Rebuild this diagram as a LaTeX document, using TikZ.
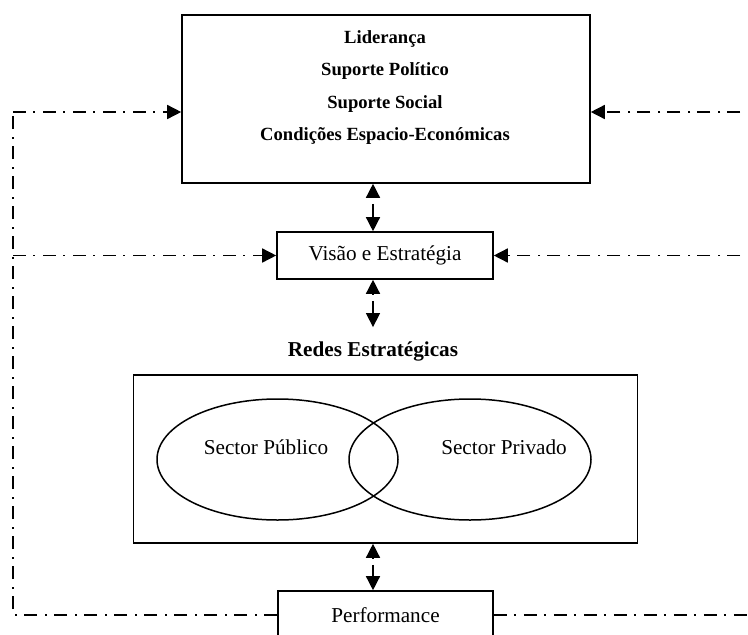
\documentclass[tikz,border=0pt]{standalone}
\usepackage{fontspec}
\setmainfont{Liberation Serif}
\usetikzlibrary{arrows.meta,shapes.geometric,calc}

\tikzset{
  box/.style={draw, line width=1.6pt, rectangle, inner sep=0pt},
  oval/.style={draw, line width=1.5pt, ellipse, inner sep=0pt},
  txt/.style={font=\fontsize{21.2}{25}\selectfont, inner sep=0pt},
  toptxt/.style={font=\bfseries\fontsize{18.6}{22}\selectfont, inner sep=0pt, anchor=base},
  headtxt/.style={font=\bfseries\fontsize{21.2}{25}\selectfont, inner sep=0pt},
  tip/.style={-{Triangle[length=14pt,width=14pt]}},
  link/.style={line width=1.4pt, tip},
  feedback/.style={line width=1.5pt, dash pattern=on 13pt off 7pt on 2pt off 8pt},
}

\begin{document}
\begin{tikzpicture}[x=1pt,y=-1pt]
\clip (0,0) rectangle (748,635);
\fill[white] (0,0) rectangle (748,635);

% boxes
\node[box, minimum width=408pt, minimum height=168pt] (topbox) at (386,99) {};
\node[toptxt] (t1) at (385,43) {Liderança};
\node[toptxt] (t2) at (385,75.5) {Suporte Político};
\node[toptxt] (t3) at (385,108) {Suporte Social};
\node[toptxt] (t4) at (385,140.5) {Condições Espacio-Económicas};

\node[box, txt, minimum width=216pt, minimum height=47pt] (visao) at (385,255.5) {Visão e Estratégia};

\node[headtxt] (redes) at (373,351) {Redes Estratégicas};
\node[box, minimum width=504pt, minimum height=168pt] (net) at (385.5,459) {};
\node[oval, minimum width=241pt, minimum height=121pt] (pub) at (277.5,459.5) {};
\node[oval, minimum width=242pt, minimum height=121pt] (priv) at (470,459.5) {};
\node[txt] (publbl) at (266,447) {Sector Público};
\node[txt] (privlbl) at (504,447) {Sector Privado};

\node[box, txt, minimum width=215pt, minimum height=48pt] (perf) at (385.5,615) {Performance};

% two-way links on the central axis
\coordinate (axis) at (373,0);
\coordinate (lft) at (13,112);
\coordinate (rgt) at (770,112);

\draw[link] ($(topbox.south -| axis)+(0,14)$) -- (topbox.south -| axis);
\draw[link] ($(topbox.south -| axis)+(0,20)$) -- (visao.north -| axis);

\draw[link] ($(visao.south -| axis)+(0,15)$) -- (visao.south -| axis);
\draw[link] ($(visao.south -| axis)+(0,21)$) -- ($(redes.north -| axis)+(0,-14)$);

\draw[link] ($(net.south -| axis)+(0,15)$) -- (net.south -| axis);
\draw[link] ($(net.south -| axis)+(0,21)$) -- (perf.north -| axis);

% feedback loops
\draw[feedback] (perf.west) -| (lft);
\draw[feedback, tip] (lft) -- (lft -| topbox.west);
\draw[feedback, tip] (visao.west -| lft) -- (visao.west);

\draw[feedback, tip] (rgt) -- (rgt -| topbox.east);
\draw[feedback, tip] (visao.east -| rgt) -- (visao.east);
\draw[feedback] (perf.east) -- (perf.east -| rgt);
\end{tikzpicture}
\end{document}
